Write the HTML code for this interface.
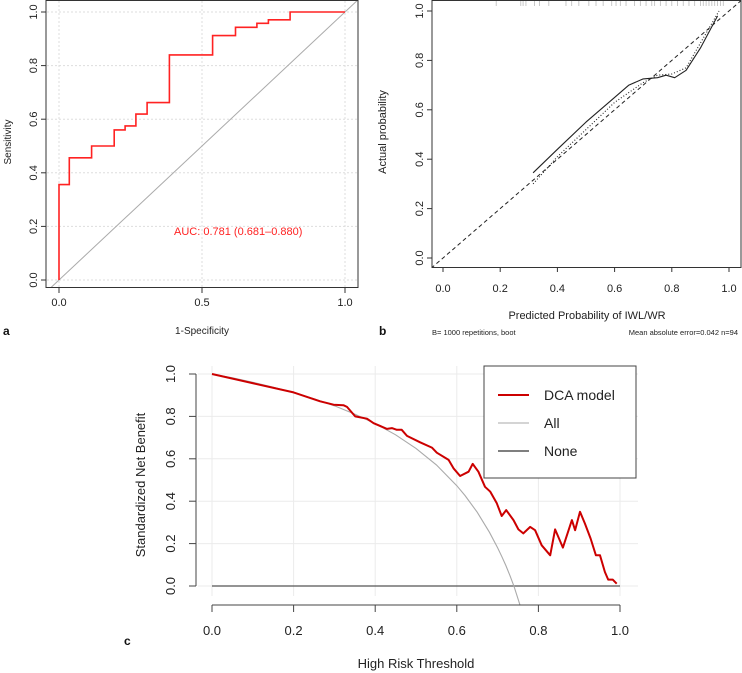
<!DOCTYPE html>
<html><head><meta charset="utf-8"><style>
body{margin:0;background:#fff}
svg{display:block;font-family:"Liberation Sans",sans-serif}
</style></head><body>
<svg id="s" width="742" height="673" viewBox="0 0 742 673">
<defs>
<clipPath id="ca"><rect x="46" y="0.5" width="312" height="287"/></clipPath>
<clipPath id="cb"><rect x="432" y="0.5" width="309" height="267"/></clipPath>
</defs>
<g id="ga"></g>
<g id="gb"></g>
<g id="gc"></g>
</svg>
<script>
// Panel a: ROC
const rocFpr=[0,0,0.036,0.036,0.114,0.114,0.193,0.193,0.231,0.231,0.269,0.269,0.308,0.308,0.386,0.386,0.537,0.537,0.617,0.617,0.692,0.692,0.732,0.732,0.808,0.808,1.0];
const rocTpr=[0,0.356,0.356,0.456,0.456,0.5,0.5,0.56,0.56,0.575,0.575,0.619,0.619,0.662,0.662,0.84,0.84,0.912,0.912,0.943,0.943,0.958,0.958,0.971,0.971,1.0,1.0];
const rocXTicks=[0,0.5,1];
const rocYTicks=[0,0.2,0.4,0.6,0.8,1.0];
// Panel b: calibration
const calPred=[0.315,0.4,0.5,0.6,0.65,0.7,0.75,0.78,0.81,0.85,0.9,0.96];
const calBiasCorr=[0.345,0.44,0.55,0.65,0.70,0.725,0.73,0.74,0.73,0.76,0.85,0.98];
const calPredApp=[0.315,0.4,0.5,0.6,0.7,0.75,0.8,0.85,0.9,0.965];
const calApparent=[0.30,0.41,0.52,0.63,0.71,0.74,0.745,0.77,0.87,1.0];
const rugValues=[0.186,0.272,0.28,0.29,0.32,0.337,0.37,0.43,0.45,0.475,0.51,0.535,0.56,0.59,0.605,0.62,0.64,0.67,0.69,0.71,0.73,0.74,0.76,0.78,0.8,0.82,0.84,0.86,0.88,0.9,0.91,0.92,0.93,0.94,0.95,0.96,0.97,0.98];
const calTicks=[0,0.2,0.4,0.6,0.8,1.0];
// Panel c: DCA
const dcaT=[0,0.2,0.265,0.298,0.322,0.331,0.351,0.38,0.396,0.429,0.441,0.453,0.465,0.478,0.51,0.539,0.551,0.58,0.592,0.608,0.629,0.639,0.653,0.669,0.682,0.698,0.71,0.721,0.739,0.751,0.763,0.78,0.792,0.808,0.829,0.841,0.86,0.882,0.89,0.902,0.914,0.928,0.941,0.951,0.963,0.971,0.982,0.992];
const dcaModel=[1.0,0.913,0.871,0.855,0.853,0.845,0.80,0.789,0.768,0.741,0.745,0.737,0.737,0.708,0.678,0.653,0.629,0.595,0.555,0.519,0.539,0.576,0.539,0.468,0.445,0.39,0.33,0.358,0.311,0.267,0.248,0.279,0.263,0.192,0.145,0.267,0.181,0.311,0.263,0.35,0.295,0.224,0.145,0.145,0.066,0.03,0.03,0.011];
const allT=[0,0.05,0.1,0.15,0.2,0.25,0.3,0.35,0.4,0.45,0.5,0.55,0.6,0.62,0.65,0.68,0.7,0.71,0.72,0.73,0.74,0.755];
const allNB=[1,0.982,0.961,0.938,0.912,0.883,0.85,0.811,0.766,0.713,0.649,0.571,0.473,0.427,0.348,0.254,0.18,0.14,0.097,0.051,0.0,-0.09];
const dcaTicks=[0,0.2,0.4,0.6,0.8,1.0];

const NS='http://www.w3.org/2000/svg';
function mk(p,tag,at,txt){const e=document.createElementNS(NS,tag);for(const k in at)e.setAttribute(k,at[k]);if(txt!==undefined)e.textContent=txt;p.appendChild(e);return e;}
function pts(xs,ys,fx,fy){return xs.map((x,i)=>fx(x).toFixed(1)+','+fy(ys[i]).toFixed(1)).join(' ');}

// ---- Panel a
(function(){
const g=document.getElementById('ga');
const X=v=>59+v*286, Y=v=>280-v*268;
rocXTicks.forEach(v=>{const l=mk(g,'line',{x1:X(v),x2:X(v),y1:1,y2:287,stroke:'#ddd','stroke-dasharray':'2,2'});});
rocYTicks.forEach(v=>{const l=mk(g,'line',{x1:47,x2:357,y1:Y(v),y2:Y(v),stroke:'#ddd','stroke-dasharray':'2,2'});});
const d=mk(g,'line',{x1:X(-0.1),y1:Y(-0.1),x2:X(1.05),y2:Y(1.05),stroke:'#aaa','stroke-width':1,'clip-path':'url(#ca)'});

const r=mk(g,'polyline',{points:pts(rocFpr,rocTpr,X,Y),fill:'none',stroke:'#f22','stroke-width':1.6});

const b=mk(g,'rect',{x:46,y:0.5,width:312,height:287,fill:'none',stroke:'#333'});

rocXTicks.forEach(v=>{mk(g,'line',{x1:X(v),x2:X(v),y1:288,y2:293,stroke:'#333'});const t=mk(g,'text',{x:X(v),y:306,'font-size':11,'text-anchor':'middle',fill:'#222'},v.toFixed(1));});
rocYTicks.forEach(v=>{mk(g,'line',{x1:41,x2:46,y1:Y(v),y2:Y(v),stroke:'#333'});const t=mk(g,'text',{x:0,y:0,'font-size':11,'text-anchor':'middle',fill:'#222',transform:`translate(37,${Y(v)}) rotate(-90)`},v.toFixed(1));});
const au=mk(g,'text',{x:174,y:235,'font-size':11,fill:'#f22'},'AUC: 0.781 (0.681–0.880)');
const xl=mk(g,'text',{x:202,y:334,'font-size':10,'text-anchor':'middle',fill:'#222'},'1-Specificity');
const yl=mk(g,'text',{x:0,y:0,'font-size':10,'text-anchor':'middle',fill:'#222',transform:'translate(11,142) rotate(-90)'},'Sensitivity');
const pl=mk(g,'text',{x:3,y:335,'font-size':12,'font-weight':'bold',fill:'#111'},'a');
})();

// ---- Panel b
(function(){
const g=document.getElementById('gb');
const X=v=>443+v*286, Y=v=>258-v*247;
const rg=mk(g,'g',{});
rugValues.forEach(v=>mk(rg,'line',{x1:X(v),x2:X(v),y1:0,y2:6,stroke:'#bbb','stroke-width':0.8}));
const d=mk(g,'line',{x1:X(-0.06),y1:Y(-0.06),x2:X(1.06),y2:Y(1.06),stroke:'#222','stroke-dasharray':'4,3','stroke-width':1,'clip-path':'url(#cb)'});

const a=mk(g,'polyline',{points:pts(calPredApp,calApparent,X,Y),fill:'none',stroke:'#222','stroke-dasharray':'1,2','stroke-width':1.1});

const c=mk(g,'polyline',{points:pts(calPred,calBiasCorr,X,Y),fill:'none',stroke:'#222','stroke-width':1.1,'stroke-linejoin':'round'});

const b=mk(g,'rect',{x:432,y:0.5,width:309,height:267,fill:'none',stroke:'#333'});

calTicks.forEach(v=>{mk(g,'line',{x1:X(v),x2:X(v),y1:267,y2:272,stroke:'#333'});const t=mk(g,'text',{x:X(v),y:292,'font-size':11,'text-anchor':'middle',fill:'#222'},v.toFixed(1));});
calTicks.forEach(v=>{mk(g,'line',{x1:427,x2:432,y1:Y(v),y2:Y(v),stroke:'#333'});const t=mk(g,'text',{x:0,y:0,'font-size':11,'text-anchor':'middle',fill:'#222',transform:`translate(423,${Y(v)}) rotate(-90)`},v.toFixed(1));});
const xl=mk(g,'text',{x:587,y:319,'font-size':11,'text-anchor':'middle',fill:'#222'},'Predicted Probability of IWL/WR');
const yl=mk(g,'text',{x:0,y:0,'font-size':11,'text-anchor':'middle',fill:'#222',transform:'translate(386,132) rotate(-90)'},'Actual probability');
const pl=mk(g,'text',{x:379,y:335,'font-size':12,'font-weight':'bold',fill:'#111'},'b');
const n1=mk(g,'text',{x:432,y:335,'font-size':7.5,fill:'#222'},'B= 1000 repetitions, boot');
const n2=mk(g,'text',{x:738,y:335,'font-size':7.5,'text-anchor':'end',fill:'#222'},'Mean absolute error=0.042 n=94');
})();

// ---- Panel c
(function(){
const g=document.getElementById('gc');
const X=v=>212+v*408, Y=v=>586-v*212;
dcaTicks.forEach(v=>{const l=mk(g,'line',{x1:X(v),x2:X(v),y1:366,y2:596,stroke:'#ebebeb'});
 const m=mk(g,'line',{x1:198,x2:638,y1:Y(v),y2:Y(v),stroke:'#ebebeb'});});
const no=mk(g,'line',{x1:X(0),x2:X(1),y1:Y(0),y2:Y(0),stroke:'#555','stroke-width':1.3});
const al=mk(g,'polyline',{points:pts(allT,allNB,X,Y),fill:'none',stroke:'#aaa','stroke-width':1.1});
const md=mk(g,'polyline',{points:pts(dcaT,dcaModel,X,Y),fill:'none',stroke:'#c00','stroke-width':2,'stroke-linejoin':'round'});
mk(g,'line',{x1:196,x2:196,y1:Y(1),y2:Y(0),stroke:'#444'});
mk(g,'line',{x1:X(0),x2:X(1),y1:605,y2:605,stroke:'#444'});
dcaTicks.forEach(v=>{mk(g,'line',{x1:X(v),x2:X(v),y1:605,y2:612,stroke:'#444'});const t=mk(g,'text',{x:X(v),y:635,'font-size':13,'text-anchor':'middle',fill:'#222'},v.toFixed(1));});
dcaTicks.forEach(v=>{mk(g,'line',{x1:189,x2:196,y1:Y(v),y2:Y(v),stroke:'#444'});const t=mk(g,'text',{x:0,y:0,'font-size':13,'text-anchor':'middle',fill:'#222',transform:`translate(175,${Y(v)}) rotate(-90)`},v.toFixed(1));});
const lg=mk(g,'g',{});
mk(lg,'rect',{x:484,y:366,width:152,height:112,fill:'#fff',stroke:'#444'});
[['DCA model','#c00',2,395],['All','#aaa',1.1,423],['None','#333',1.2,451]].forEach(e=>{
 const it=mk(lg,'g',{});
 mk(it,'line',{x1:498,x2:529,y1:e[3],y2:e[3],stroke:e[1],'stroke-width':e[2]});
 mk(it,'text',{x:544,y:e[3]+5,'font-size':14,fill:'#222'},e[0]);});
const xl=mk(g,'text',{x:416,y:668,'font-size':13,'text-anchor':'middle',fill:'#222'},'High Risk Threshold');
const yl=mk(g,'text',{x:0,y:0,'font-size':13,'text-anchor':'middle',fill:'#222',transform:'translate(145,485) rotate(-90)'},'Standardized Net Benefit');
const pl=mk(g,'text',{x:124,y:645,'font-size':12,'font-weight':'bold',fill:'#111'},'c');
})();
</script>
</body></html>
